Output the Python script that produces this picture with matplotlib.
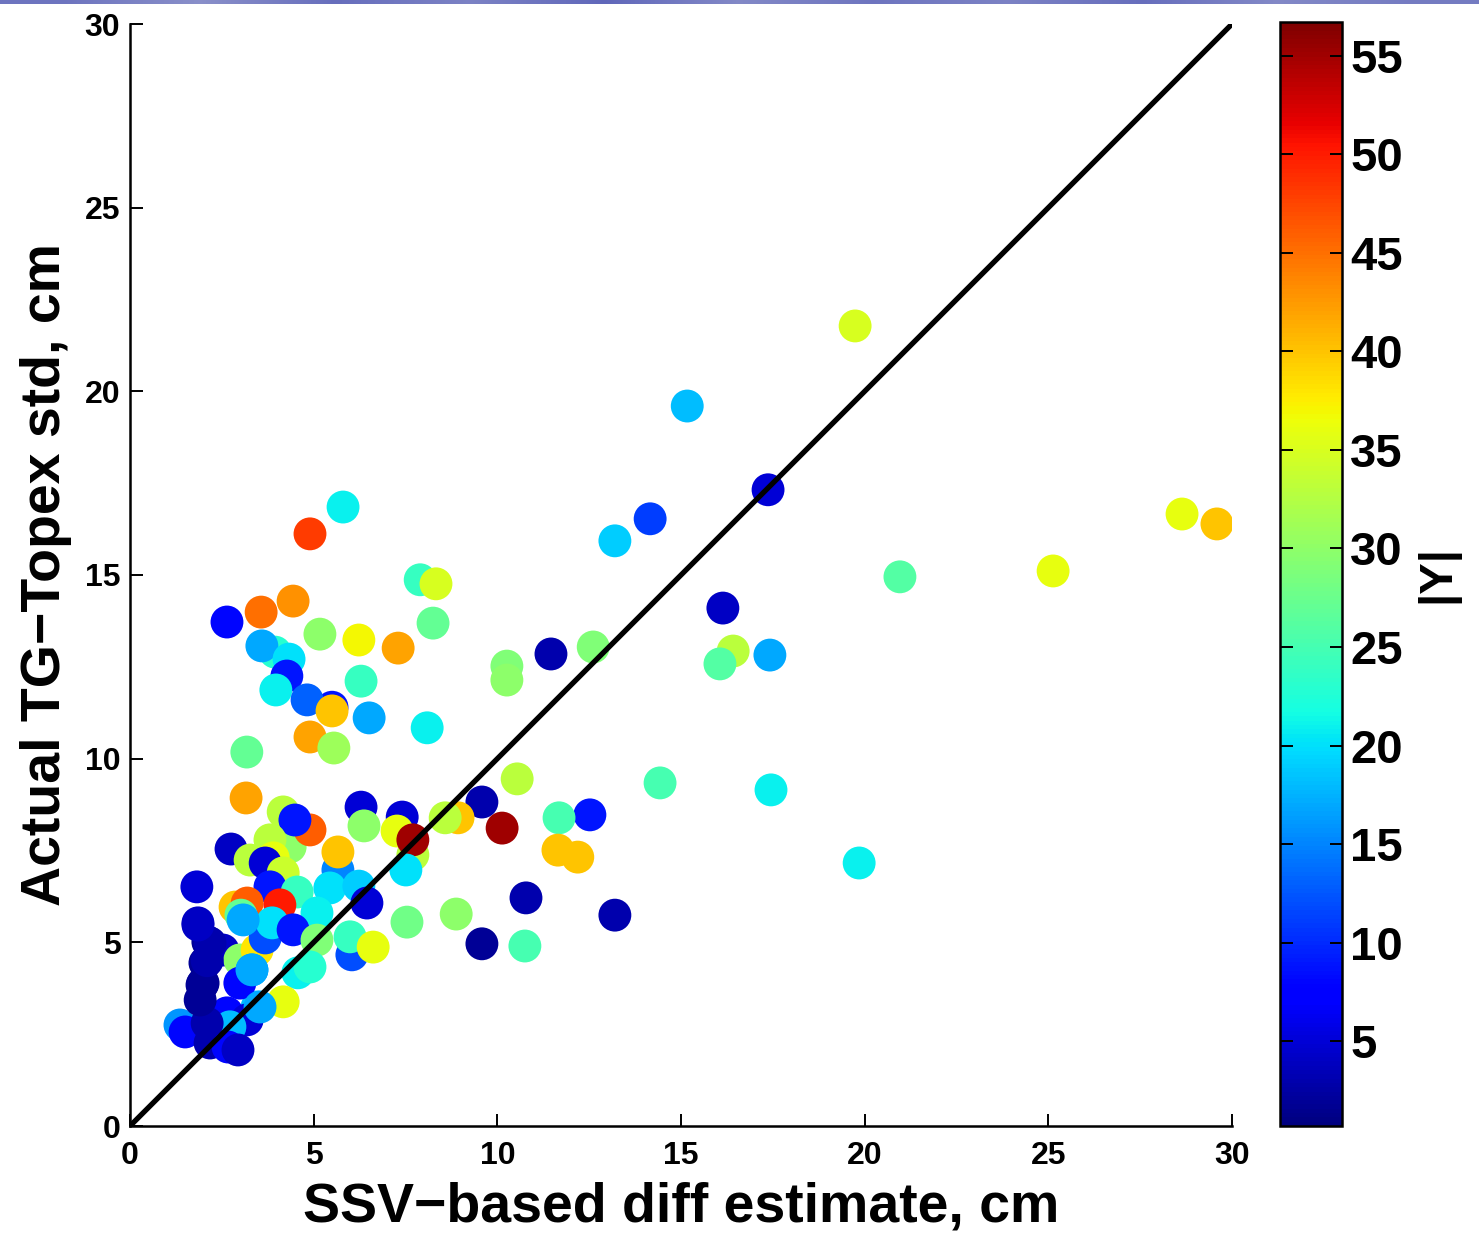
import numpy as np
import matplotlib
matplotlib.use("Agg")
import matplotlib.pyplot as plt
from matplotlib.colors import LinearSegmentedColormap

plt.rcParams['font.family'] = ['Liberation Sans', 'DejaVu Sans']
plt.rcParams['font.weight'] = 'bold'

# SSV-based diff estimate (x), actual TG-Topex std (y), |Y| (colour)
x_est = [
    19.74, 15.17, 17.37, 14.16, 13.20, 28.64, 29.59, 25.13, 20.96, 16.14,
    12.61, 11.46, 16.42, 16.06, 17.42, 10.26, 10.26, 8.09, 10.54, 14.43,
    17.45, 9.58, 12.52, 11.68, 10.13, 8.93, 8.58, 11.65, 12.19, 19.85,
    10.78, 13.20, 8.88, 7.54, 9.58, 10.75,
    5.80, 4.90, 2.64, 3.57, 4.44, 7.90, 8.33, 8.25, 5.17, 6.23,
    7.30, 3.95, 3.59, 4.33, 4.27, 3.97, 6.29, 5.50, 4.82, 5.50,
    6.51, 4.90, 5.55, 3.18,
    3.16, 4.17, 4.36, 4.90, 4.49, 6.29, 7.41, 6.37, 7.70, 7.27,
    7.70, 7.51, 2.75, 3.81, 3.27, 3.90, 3.68, 4.17, 3.81, 5.66,
    5.66, 1.82, 4.55, 5.44, 6.23, 6.45, 2.86, 3.19, 4.08, 3.02,
    5.09, 1.85,
    2.12, 2.53, 2.04, 2.99, 3.46, 3.32, 3.68, 3.87, 3.08, 4.44,
    5.09, 6.04, 5.99, 6.62, 4.57, 4.90, 4.17, 3.46, 1.99, 2.64,
    3.19, 2.72, 1.36, 1.50, 2.10, 2.18, 2.67, 2.94, 1.91, 1.96,
    2.10, 2.99, 3.54, 3.32, 2.18, 1.85,
]
y_std = [
    21.78, 19.60, 17.32, 16.53, 15.93, 16.66, 16.39, 15.11, 14.95, 14.10,
    13.04, 12.85, 12.93, 12.58, 12.82, 12.52, 12.14, 10.84, 9.45, 9.34,
    9.15, 8.82, 8.47, 8.39, 8.11, 8.39, 8.39, 7.51, 7.32, 7.16,
    6.21, 5.74, 5.77, 5.55, 4.96, 4.90,
    16.85, 16.12, 13.72, 13.99, 14.29, 14.87, 14.76, 13.69, 13.39, 13.23,
    13.01, 12.90, 13.07, 12.71, 12.25, 11.87, 12.11, 11.40, 11.60, 11.30,
    11.11, 10.59, 10.29, 10.18,
    8.93, 8.55, 7.60, 8.06, 8.33, 8.68, 8.41, 8.17, 7.38, 8.03,
    7.79, 6.97, 7.54, 7.79, 7.24, 7.30, 7.16, 6.89, 6.51, 6.97,
    7.46, 6.51, 6.37, 6.48, 6.53, 6.07, 5.96, 6.07, 6.02, 5.74,
    5.80, 5.53,
    5.01, 4.79, 4.44, 4.52, 4.79, 4.25, 5.12, 5.53, 5.61, 5.34,
    5.06, 4.66, 5.15, 4.87, 4.17, 4.33, 3.38, 3.24, 3.89, 3.08,
    2.89, 2.70, 2.75, 2.56, 2.80, 2.26, 2.15, 2.07, 3.43, 3.84,
    4.50, 3.89, 3.24, 4.25, 4.98, 5.47,
]
abs_y = [
    35, 18, 5, 11, 19, 36, 40, 36, 26, 4,
    29, 3, 33, 26, 17, 29, 30, 21, 33, 25,
    21, 3, 9, 25, 55, 40, 33, 40, 40, 21,
    3, 3, 30, 28, 2, 25,
    21, 48, 8, 45, 43, 24, 35, 27, 30, 37,
    42, 23, 17, 20, 9, 21, 24, 9, 13, 40,
    17, 42, 31, 27,
    42, 33, 30, 46, 9, 5, 5, 30, 33, 36,
    55, 20, 4, 33, 33, 36, 5, 34, 9, 15,
    40, 5, 24, 20, 19, 5, 40, 46, 50, 27,
    21, 4,
    2, 4, 2, 30, 38, 17, 12, 20, 17, 9,
    29, 12, 24, 36, 21, 23, 36, 18, 2, 8,
    5, 18, 16, 8, 3, 3, 8, 4, 2, 2,
    3, 8, 17, 17, 3, 4,
]

x_ticks = [0, 5, 10, 15, 20, 25, 30]
y_ticks = [0, 5, 10, 15, 20, 25, 30]
cb_ticks = [5, 10, 15, 20, 25, 30, 35, 40, 45, 50, 55]
c_lim = (0.7, 56.7)

W, H = 1479, 1235
fig = plt.figure(figsize=(W / 100, H / 100), dpi=100)

# thin banner at top
bax = fig.add_axes([0, 1 - 4 / H, 1, 4 / H])
banner_cmap = LinearSegmentedColormap.from_list(
    'banner', [(0.35, 0.38, 0.72), (0.62, 0.64, 0.82)])
grad = np.array([[0.3, 0.7, 0.2, 0.5, 0.1, 0.6, 0.3, 0.5, 0.2, 0.6, 0.4]])
bax.imshow(grad, aspect='auto', cmap=banner_cmap, vmin=0, vmax=1, interpolation='bilinear')
bax.axis('off')

ax = fig.add_axes([130 / W, 1 - 1126 / H, (1232 - 130) / W, (1126 - 24) / H])
sc = ax.scatter(x_est, y_std, c=abs_y, cmap='jet', vmin=c_lim[0], vmax=c_lim[1],
                s=560, linewidths=0, zorder=2)
ax.plot([0, 30], [0, 30], color='black', lw=3.8, zorder=3, solid_capstyle='butt')

ax.set_xlim(0, 30)
ax.set_ylim(0, 30)
ax.set_xticks(x_ticks)
ax.set_yticks(y_ticks)
ax.spines['top'].set_visible(False)
ax.spines['right'].set_visible(False)
for s in ('left', 'bottom'):
    ax.spines[s].set_linewidth(1.8)
ax.tick_params(direction='in', length=9, width=1.4, labelsize=23)
ax.tick_params(axis='x', pad=11)
ax.tick_params(axis='y', pad=7)
for lab in ax.get_xticklabels() + ax.get_yticklabels():
    lab.set_fontweight('bold')
ax.set_xlabel('SSV\u2212based diff estimate, cm', fontsize=40, fontweight='bold', labelpad=7)
ax.set_ylabel('Actual TG\u2212Topex std, cm', fontsize=40, fontweight='bold', labelpad=9)

cax = fig.add_axes([1280 / W, 1 - 1126 / H, (1342 - 1280) / W, (1126 - 22) / H])
cb = fig.colorbar(sc, cax=cax, ticks=cb_ticks)
cb.outline.set_linewidth(1.8)
cax.tick_params(direction='in', length=9, width=1.4, labelsize=34, pad=6,
                left=True, right=True)
for lab in cax.get_yticklabels():
    lab.set_fontweight('bold')
cb.set_label('|Y|', fontsize=34, fontweight='bold', rotation=90, labelpad=9)

fig.savefig('out.png', dpi=100)
